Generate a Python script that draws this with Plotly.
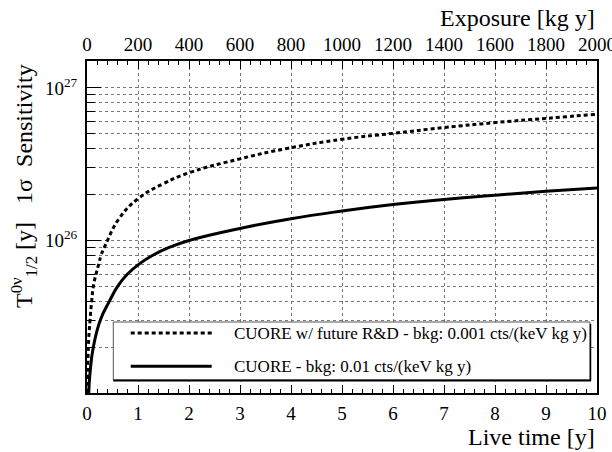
import plotly.graph_objects as go

# ---- data ----
live_time_rd = [0.012, 0.026, 0.059, 0.092, 0.124, 0.176, 0.23, 0.275, 0.34, 0.40,
                0.634, 1.0, 1.5, 2.0, 3.0, 3.9, 5.0, 6.0, 7.0, 8.0, 9.0, 10.0]
sens_rd = [1.0e25, 2.0e25, 3.0e25, 4.0e25, 5.0e25, 6.0e25, 7.0e25, 8.0e25, 9.0e25, 1.0e26,
           1.4e26, 1.88e26, 2.36e26, 2.78e26, 3.43e26, 4.0e26, 4.61e26,
           5.04e26, 5.5e26, 5.93e26, 6.32e26, 6.73e26]

live_time_base = [0.034, 0.059, 0.124, 0.26, 0.44, 0.60, 0.79, 1.02, 1.29, 1.61,
                  2.0, 3.0, 4.0, 5.0, 6.0, 7.0, 8.0, 9.0, 10.0]
sens_base = [1.0e25, 1.35e25, 2.0e25, 3.0e25, 4.0e25, 5.0e25, 6.0e25, 7.0e25, 8.0e25,
             9.0e25, 1.0e26, 1.2e26, 1.39e26, 1.56e26, 1.72e26, 1.86e26, 1.98e26,
             2.1e26, 2.21e26]

label_rd = "CUORE w/ future R&D - bkg: 0.001 cts/(keV kg y)"
label_base = "CUORE - bkg: 0.01 cts/(keV kg y)"

x_range = [0, 10]
exposure_range = [0, 2000]
exposure_ticks = [0, 200, 400, 600, 800, 1000, 1200, 1400, 1600, 1800, 2000]
y_range_log = [25, 27.177]
y_major = [1e25, 1e26, 1e27]
y_major_text = ["", "10<sup>26</sup>", "10<sup>27</sup>"]
y_minor = [2e25, 3e25, 4e25, 5e25, 6e25, 7e25, 8e25, 9e25,
           2e26, 3e26, 4e26, 5e26, 6e26, 7e26, 8e26, 9e26]

FONT = "'Liberation Serif', 'Times New Roman', serif"

fig = go.Figure()
fig.add_trace(go.Scatter(x=live_time_rd, y=sens_rd, mode="lines", name=label_rd,
                         line=dict(color="black", width=3, dash="4px,3px", shape="spline",
                                   smoothing=1.3),
                         showlegend=False))
fig.add_trace(go.Scatter(x=live_time_base, y=sens_base, mode="lines", name=label_base,
                         line=dict(color="black", width=3, shape="spline", smoothing=1.3),
                         showlegend=False))

grid = dict(showgrid=True, gridcolor="#777", griddash="dot", gridwidth=1)
tfont = dict(size=19, family=FONT, color="black")

fig.update_layout(
    template="none",
    width=612, height=452,
    margin=dict(l=87, r=15, t=61, b=59, autoexpand=False),
    paper_bgcolor="white", plot_bgcolor="white",
    font=dict(family=FONT, size=19, color="black"),
    xaxis=dict(range=x_range, dtick=1, tick0=0, ticks="inside", ticklen=8, tickwidth=1,
               tickcolor="black", showline=True, linecolor="black", linewidth=2,
               zeroline=False, tickfont=tfont, ticklabelstandoff=2, automargin=False,
               ticklabeloverflow="allow",
               minor=dict(dtick=0.2, ticks="inside", ticklen=4, tickcolor="black",
                          showgrid=False),
               **grid),
    xaxis2=dict(range=exposure_range, overlaying="x", side="top", anchor="y",
                tickmode="array", tickvals=exposure_ticks,
                ticks="inside", ticklen=8, tickcolor="black",
                showline=True, linecolor="black", linewidth=2, showgrid=False,
                zeroline=False, tickfont=tfont, automargin=False,
                ticklabeloverflow="allow",
                minor=dict(dtick=40, ticks="inside", ticklen=4, tickcolor="black")),
    yaxis=dict(type="log", range=y_range_log, tickvals=y_major, ticktext=y_major_text,
               ticks="inside", ticklen=14, tickcolor="black", showline=True,
               linecolor="black", linewidth=2, mirror=True, zeroline=False,
               tickfont=tfont, ticklabelstandoff=4, automargin=False,
               minor=dict(tickvals=y_minor, ticks="inside", ticklen=8, tickcolor="black",
                          showgrid=True, gridcolor="#777", griddash="dot", gridwidth=1),
               **grid),
)

# invisible helper so the exposure axis is drawn
fig.add_trace(go.Scatter(x=exposure_range, y=[1e26, 1e26], xaxis="x2", mode="markers",
                         marker=dict(opacity=0), hoverinfo="skip", showlegend=False))

def px_x(px):
    return (px - 87) / 510

def px_y(py):
    return (393 - py) / 332

shapes = [
    dict(type="rect", xref="paper", yref="paper", x0=px_x(113.3), x1=px_x(590),
         y0=px_y(380), y1=px_y(322), fillcolor="white", line=dict(color="#555", width=1),
         layer="above"),
    dict(type="line", xref="paper", yref="paper", x0=px_x(113.3), x1=px_x(591),
         y0=px_y(380.5), y1=px_y(380.5), line=dict(color="black", width=2), layer="above"),
    dict(type="line", xref="paper", yref="paper", x0=px_x(590.5), x1=px_x(590.5),
         y0=px_y(381), y1=px_y(324), line=dict(color="black", width=1.5), layer="above"),
    dict(type="line", xref="paper", yref="paper", x0=px_x(130.7), x1=px_x(211.7),
         y0=px_y(333), y1=px_y(333), line=dict(color="black", width=3, dash="4px,3px"),
         layer="above"),
    dict(type="line", xref="paper", yref="paper", x0=px_x(130.7), x1=px_x(211.7),
         y0=px_y(366.3), y1=px_y(366.3), line=dict(color="black", width=3),
         layer="above"),
]
fig.update_layout(shapes=shapes)

ann = [
    dict(text=label_rd, x=px_x(231.7), y=px_y(333), xanchor="left", yanchor="middle",
         font=dict(size=17, family=FONT)),
    dict(text=label_base, x=px_x(231.7), y=px_y(366.3), xanchor="left", yanchor="middle",
         font=dict(size=17, family=FONT)),
    dict(text="Live time [y]", x=1.0, y=px_y(437), xanchor="right", yanchor="middle",
         font=dict(size=24, family=FONT)),
    dict(text="Exposure [kg y]", x=1.0, y=px_y(18), xanchor="right", yanchor="middle",
         font=dict(size=24, family=FONT)),
    dict(text="T<sup>0ν</sup><sub>1/2</sub> [y]\u00a0\u00a0 1σ \u00a0Sensitivity",
         x=px_x(24), y=px_y(62), xanchor="center", yanchor="top", textangle=-90,
         font=dict(size=24, family=FONT)),
]
for a in ann:
    a.update(xref="paper", yref="paper", showarrow=False)
fig.update_layout(annotations=ann)

fig.write_html("out.html", config={"displayModeBar": False},
               post_script="document.body.style.margin='0';document.body.style.padding='0';")
